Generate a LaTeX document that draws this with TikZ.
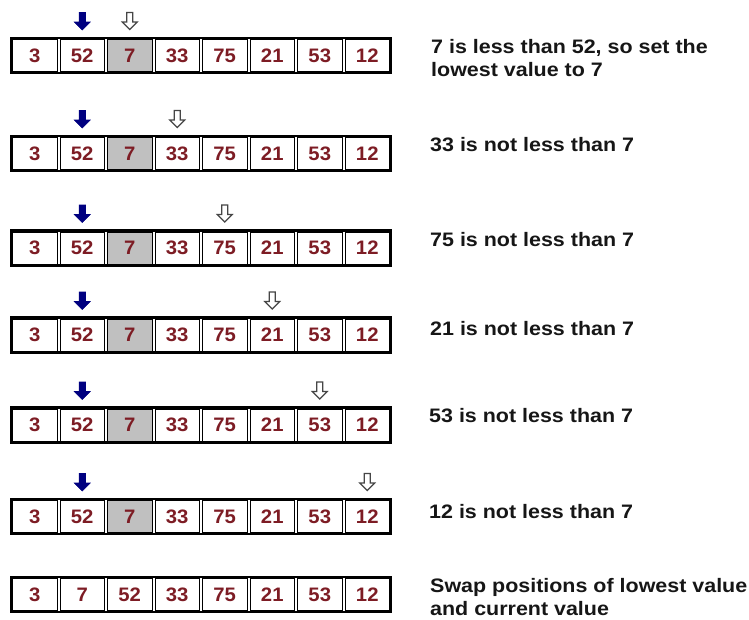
\documentclass[tikz,border=0pt]{standalone}
\usepackage{fontspec}
\setmainfont{Liberation Sans}
\newfontfamily\lblfamily{Liberation Sans}[FakeStretch=1.1]
\newfontfamily\numfamily{Liberation Sans}[FakeStretch=1.04]
\definecolor{numred}{RGB}{125,28,36}
\definecolor{ptrnavy}{RGB}{0,0,128}
\definecolor{cellgray}{RGB}{192,192,192}
\definecolor{lblblack}{RGB}{22,22,22}
\definecolor{scangray}{RGB}{70,70,70}
\tikzset{
  cell/.style={draw=black, line width=1pt, minimum width=44.5pt, minimum height=32pt,
    inner sep=0pt, fill=white, text=numred,
    font=\numfamily\bfseries\fontsize{19.5}{22}\selectfont},
  lowcell/.style={cell, fill=cellgray},
  arrframe/.style={draw=black, line width=2.5pt},
  lbl/.style={anchor=base west, inner sep=0pt, align=left, text=lblblack,
    font=\lblfamily\bfseries\fontsize{19.5}{23}\selectfont},
  curptr/.style={fill=ptrnavy, draw=ptrnavy, line width=0.6pt, line join=miter},
  scanptr/.style={fill=white, draw=scangray, line width=1.1pt, line join=miter},
}
\newcommand\arrayrow[4]{%
  \draw[arrframe] (11,#2-17.5) rectangle (391,#2+17.5);
  \foreach \v [count=\i] in {#3} {
    \ifnum\i=#4\relax
      \node[lowcell] (#1c\i) at ({11+47.5*(\i-0.5)},#2) {\v};
    \else
      \node[cell] (#1c\i) at ({11+47.5*(\i-0.5)},#2) {\v};
    \fi
  }%
}
\newcommand\curpointer[2]{%
  \draw[#1] ([shift={(-3.2,-26.5)}]#2.north) -- ([shift={(3.2,-26.5)}]#2.north)
    -- ([shift={(3.2,-17)}]#2.north) -- ([shift={(8,-17)}]#2.north)
    -- ([shift={(0,-9)}]#2.north) -- ([shift={(-8,-17)}]#2.north)
    -- ([shift={(-3.2,-17)}]#2.north) -- cycle;
}
\newcommand\scanpointer[2]{%
  \draw[#1] ([shift={(-3,-26.5)}]#2.north) -- ([shift={(3,-26.5)}]#2.north)
    -- ([shift={(3,-17)}]#2.north) -- ([shift={(7.5,-17)}]#2.north)
    -- ([shift={(0,-9.5)}]#2.north) -- ([shift={(-7.5,-17)}]#2.north)
    -- ([shift={(-3,-17)}]#2.north) -- cycle;
}
\begin{document}
\begin{tikzpicture}[x=1pt,y=-1pt]
  \fill[white] (0,0) rectangle (749,619);
  \useasboundingbox (0,0) rectangle (749,619);

  \arrayrow{a}{55.5}{3,52,7,33,75,21,53,12}{3}
  \arrayrow{b}{153.5}{3,52,7,33,75,21,53,12}{3}
  \arrayrow{c}{248}{3,52,7,33,75,21,53,12}{3}
  \arrayrow{d}{335}{3,52,7,33,75,21,53,12}{3}
  \arrayrow{e}{425}{3,52,7,33,75,21,53,12}{3}
  \arrayrow{f}{516.5}{3,52,7,33,75,21,53,12}{3}
  \arrayrow{g}{594.5}{3,7,52,33,75,21,53,12}{0}

  \curpointer{curptr}{ac2}  \scanpointer{scanptr}{ac3}
  \curpointer{curptr}{bc2}  \scanpointer{scanptr}{bc4}
  \curpointer{curptr}{cc2}  \scanpointer{scanptr}{cc5}
  \curpointer{curptr}{dc2}  \scanpointer{scanptr}{dc6}
  \curpointer{curptr}{ec2}  \scanpointer{scanptr}{ec7}
  \curpointer{curptr}{fc2}  \scanpointer{scanptr}{fc8}

  \node[lbl] (la) at (431,76.5) {7 is less than 52, so set the\\lowest value to 7};
  \node[lbl] (lb) at (430,151) {33 is not less than 7};
  \node[lbl] (lc) at (430,246.5) {75 is not less than 7};
  \node[lbl] (ld) at (430,335) {21 is not less than 7};
  \node[lbl] (le) at (429,422) {53 is not less than 7};
  \node[lbl] (lf) at (429,518) {12 is not less than 7};
  \node[lbl] (lg) at (430,615) {Swap positions of lowest value\\and current value};
\end{tikzpicture}
\end{document}
